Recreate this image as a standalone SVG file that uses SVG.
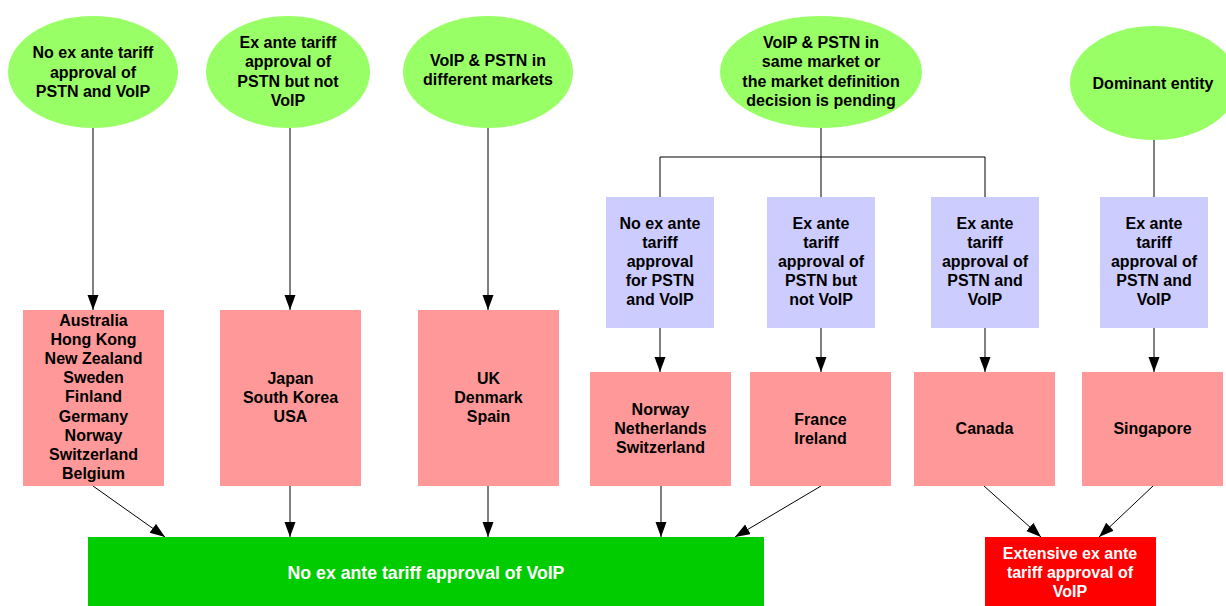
<svg xmlns="http://www.w3.org/2000/svg" width="1226" height="606" viewBox="0 0 1226 606">
<style>
text{font-family:"Liberation Sans",Arial,sans-serif;font-weight:bold;font-size:16px;text-anchor:middle;fill:#000}
.w{fill:#fff}
.big{font-size:17.7px}
.ell{fill:#99FF66}
.pink{fill:#FF9999}
.blue{fill:#CCCCFF}
.line{stroke:#000;stroke-width:1;fill:none}
.arr{marker-end:url(#ah)}
</style>
<defs>
<marker id="ah" markerUnits="userSpaceOnUse" markerWidth="16" markerHeight="12" refX="15" refY="5.5" orient="auto">
<path d="M0,0 L15,5.5 L0,11 z" fill="#000"/>
</marker>
</defs>
<rect width="1226" height="606" fill="#fff"/>

<g id="connectors">
<path class="line arr" d="M93,128 V310"/>
<path class="line arr" d="M290,128 V310"/>
<path class="line arr" d="M488,128 V310"/>
<path class="line" d="M821,128 V157 M660,157 H985 M660,157 V197 M821,157 V197 M985,157 V197"/>
<path class="line" d="M1154,140 V197"/>
<path class="line arr" d="M660,328 V372"/>
<path class="line arr" d="M821,328 V372"/>
<path class="line arr" d="M985,328 V372"/>
<path class="line arr" d="M1154,328 V372"/>
<path class="line arr" d="M93,486 L165,537"/>
<path class="line arr" d="M290,486 V537"/>
<path class="line arr" d="M488,486 V537"/>
<path class="line arr" d="M661,486 V537"/>
<path class="line arr" d="M821,486 L735,537"/>
<path class="line arr" d="M984,486 L1041,537"/>
<path class="line arr" d="M1153,486 L1099,537"/>
</g>

<g id="e1"><ellipse class="ell" cx="93" cy="72" rx="85" ry="56"/>
<text x="93" y="58">No ex ante tariff</text><text x="93" y="77.5">approval of</text><text x="93" y="97">PSTN and VoIP</text></g>
<g id="e2"><ellipse class="ell" cx="288" cy="72" rx="82" ry="56"/>
<text x="288" y="48">Ex ante tariff</text><text x="288" y="67.3">approval of</text><text x="288" y="86.7">PSTN but not</text><text x="288" y="106">VoIP</text></g>
<g id="e3"><ellipse class="ell" cx="488" cy="72" rx="85" ry="56"/>
<text x="488" y="66">VoIP &amp; PSTN in</text><text x="488" y="85.3">different markets</text></g>
<g id="e4"><ellipse class="ell" cx="821" cy="72" rx="101" ry="56"/>
<text x="821" y="48">VoIP &amp; PSTN in</text><text x="821" y="67.3">same market or</text><text x="821" y="86.7">the market definition</text><text x="821" y="106">decision is pending</text></g>
<g id="e5"><ellipse class="ell" cx="1154" cy="83" rx="84" ry="57"/>
<text x="1153" y="89">Dominant entity</text></g>

<g id="b1"><rect class="blue" x="606" y="197" width="108" height="131"/>
<text x="660" y="229">No ex ante</text><text x="660" y="248">tariff</text><text x="660" y="267">approval</text><text x="660" y="286">for PSTN</text><text x="660" y="304.5">and VoIP</text></g>
<g id="b2"><rect class="blue" x="767" y="197" width="108" height="131"/>
<text x="821" y="229">Ex ante</text><text x="821" y="248">tariff</text><text x="821" y="267">approval of</text><text x="821" y="286">PSTN but</text><text x="821" y="304.5">not VoIP</text></g>
<g id="b3"><rect class="blue" x="931" y="197" width="108" height="131"/>
<text x="985" y="229">Ex ante</text><text x="985" y="248">tariff</text><text x="985" y="267">approval of</text><text x="985" y="286">PSTN and</text><text x="985" y="304.5">VoIP</text></g>
<g id="b4"><rect class="blue" x="1100" y="197" width="108" height="131"/>
<text x="1154" y="229">Ex ante</text><text x="1154" y="248">tariff</text><text x="1154" y="267">approval of</text><text x="1154" y="286">PSTN and</text><text x="1154" y="304.5">VoIP</text></g>

<g id="p1"><rect class="pink" x="23" y="310" width="141" height="176"/>
<text x="93.5" y="326">Australia</text><text x="93.5" y="345.1">Hong Kong</text><text x="93.5" y="364.2">New Zealand</text><text x="93.5" y="383.3">Sweden</text><text x="93.5" y="402.4">Finland</text><text x="93.5" y="421.5">Germany</text><text x="93.5" y="440.6">Norway</text><text x="93.5" y="459.7">Switzerland</text><text x="93.5" y="479">Belgium</text></g>
<g id="p2"><rect class="pink" x="220" y="310" width="141" height="176"/>
<text x="290.5" y="384">Japan</text><text x="290.5" y="403">South Korea</text><text x="290.5" y="422">USA</text></g>
<g id="p3"><rect class="pink" x="418" y="310" width="141" height="176"/>
<text x="488.5" y="384">UK</text><text x="488.5" y="403">Denmark</text><text x="488.5" y="422">Spain</text></g>
<g id="p4"><rect class="pink" x="590" y="372" width="141" height="114"/>
<text x="660.5" y="415">Norway</text><text x="660.5" y="434">Netherlands</text><text x="660.5" y="453">Switzerland</text></g>
<g id="p5"><rect class="pink" x="750" y="372" width="141" height="114"/>
<text x="820.5" y="425">France</text><text x="820.5" y="444">Ireland</text></g>
<g id="p6"><rect class="pink" x="914" y="372" width="141" height="114"/>
<text x="984.5" y="434">Canada</text></g>
<g id="p7"><rect class="pink" x="1082" y="372" width="141" height="114"/>
<text x="1152.5" y="434">Singapore</text></g>

<g id="green"><rect x="88" y="537" width="676" height="69" fill="#00CC00"/>
<text class="w big" x="426" y="579">No ex ante tariff approval of VoIP</text></g>
<g id="red"><rect x="985" y="537" width="171" height="69" fill="#FF0000"/>
<text class="w" x="1070" y="559">Extensive ex ante</text><text class="w" x="1070" y="578">tariff approval of</text><text class="w" x="1070" y="597">VoIP</text></g>
</svg>
